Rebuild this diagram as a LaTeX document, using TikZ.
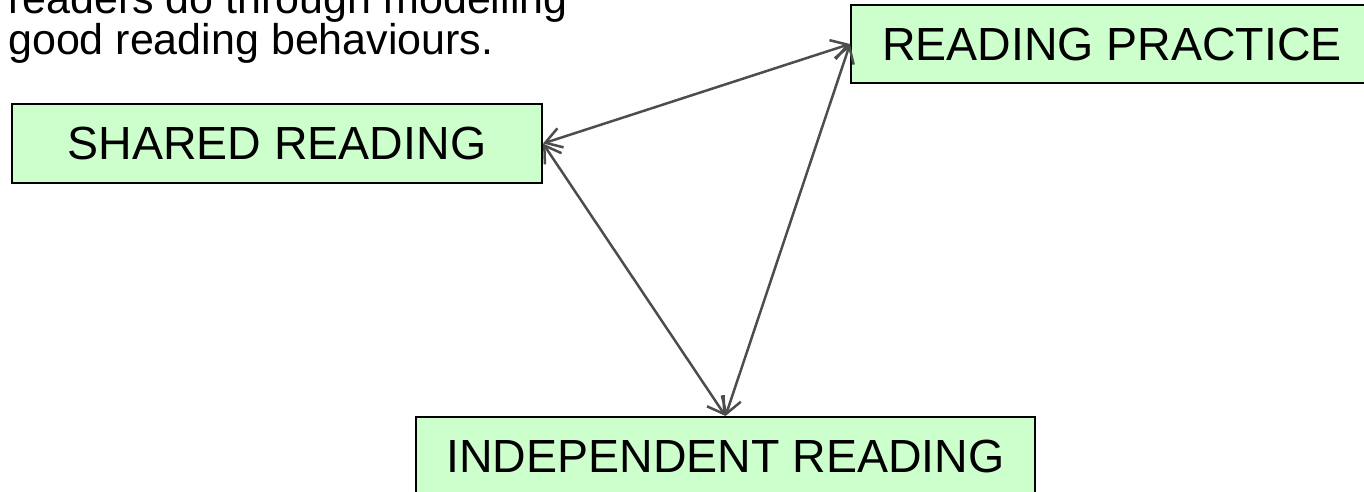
\documentclass[tikz,border=0pt]{standalone}
\usepackage{fontspec}
\setmainfont{Liberation Sans}
\usetikzlibrary{arrows.meta}
\definecolor{boxfill}{HTML}{CCFFCC}
\definecolor{linkgray}{HTML}{4D4D4D}
\begin{document}
\begin{tikzpicture}[x=1pt,y=-1pt,
  box/.style={draw=black, line width=2pt, fill=boxfill, inner sep=0pt,
    font=\fontsize{46.5}{50}\selectfont, text=black},
  link/.style={draw=linkgray, line width=2.5pt,
    {Straight Barb[length=16pt,width=20pt,line width=2.5pt]}-{Straight Barb[length=16pt,width=20pt,line width=2.5pt]}}]
\useasboundingbox (0,0) rectangle (1364,492);
\clip (0,0) rectangle (1364,492);
\node[anchor=base west, align=left, inner sep=0pt,
  font=\fontsize{43}{41}\selectfont] (intro) at (8,55)
  {readers do through modelling\\good reading behaviours.};
\node[box, minimum width=530pt, minimum height=79pt] (shared) at (277,143.5) {SHARED READING};
\node[box, minimum width=522pt, minimum height=78pt] (practice) at (1112,44) {READING PRACTICE};
\node[box, minimum width=619pt, minimum height=79pt] (indep) at (725.5,456.5) {INDEPENDENT READING};
\draw[link] (shared.east) -- (practice.west);
\draw[link] (shared.east) -- (indep.north);
\draw[link] (practice.west) -- (indep.north);
\end{tikzpicture}
\end{document}
